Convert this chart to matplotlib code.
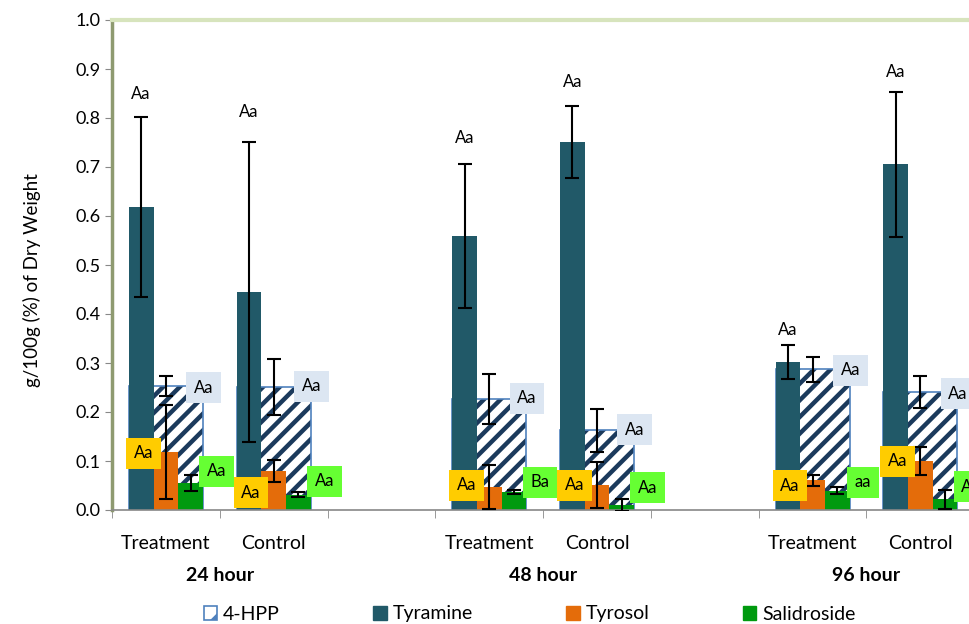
import matplotlib.pyplot as plt
import numpy as np
from matplotlib.patches import Patch
import matplotlib.transforms as mtransforms

plt.rcParams['font.family'] = ['Lato', 'DejaVu Sans']
plt.rcParams['hatch.linewidth'] = 3.2

# data, order: T24, C24, T48, C48, T96, C96
x_pos = [0, 1, 3, 4, 6, 7]
categories = ['Treatment', 'Control', 'Treatment', 'Control', 'Treatment', 'Control']
hours = ['24 hour', '48 hour', '96 hour']
series_names = ['4-HPP', 'Tyramine', 'Tyrosol', 'Salidroside']

hpp = [0.253, 0.251, 0.226, 0.163, 0.287, 0.241]
hpp_err = [0.021, 0.058, 0.051, 0.044, 0.025, 0.033]
tyramine = [0.618, 0.445, 0.559, 0.751, 0.302, 0.706]
tyramine_err = [0.184, 0.306, 0.147, 0.073, 0.035, 0.148]
tyrosol = [0.118, 0.080, 0.047, 0.051, 0.061, 0.100]
tyrosol_err = [0.096, 0.023, 0.045, 0.046, 0.011, 0.028]
salidroside = [0.055, 0.031, 0.037, 0.010, 0.039, 0.022]
salidroside_err = [0.017, 0.005, 0.004, 0.012, 0.007, 0.019]

# significance letters
tyramine_sig = ['Aa', 'Aa', 'Aa', 'Aa', 'Aa', 'Aa']
hpp_sig = ['Aa', 'Aa', 'Aa', 'Aa', 'Aa', 'Aa']
tyrosol_sig = ['Aa', 'Aa', 'Aa', 'Aa', 'Aa', 'Aa']
salidroside_sig = ['Aa', 'Aa', 'Ba', 'Aa', 'aa', 'Aa']

# where the letters sit (y in data units)
tyramine_lab_y = [0.849, 0.813, 0.759, 0.873, 0.367, 0.894]
hpp_lab_y = [0.249, 0.253, 0.228, 0.164, 0.285, 0.237]
tyrosol_lab_y = [0.116, 0.035, 0.050, 0.050, 0.049, 0.100]
salidroside_lab_y = [0.079, 0.059, 0.057, 0.045, 0.057, 0.047]

c_hpp_edge = '#4F81BD'
c_hatch = '#1B3A5C'
c_tyr = '#215968'
c_tyro = '#E46C0A'
c_sal = '#009A0F'

fig = plt.figure(figsize=(9.7, 6.24), dpi=100)
ax = fig.add_axes([112 / 970, 114 / 624, 1.0, 490 / 624])

x = np.array(x_pos, dtype=float)
w = 0.229

# 4-HPP wide hatched bar behind the others
ax.bar(x, hpp, 3 * w, color='white', edgecolor=c_hatch, hatch='//', linewidth=0, zorder=1)
ax.bar(x, hpp, 3 * w, fill=False, edgecolor=c_hpp_edge, linewidth=1.2, zorder=1.5)
ax.bar(x - w, tyramine, w, color=c_tyr, zorder=2)
ax.bar(x, tyrosol, w, color=c_tyro, zorder=2)
ax.bar(x + w, salidroside, w, color=c_sal, zorder=2)

eb = dict(fmt='none', ecolor='black', elinewidth=1.5, capsize=5, capthick=1.5, zorder=3)
ax.errorbar(x - w, tyramine, yerr=tyramine_err, **eb)
ax.errorbar(x, hpp, yerr=hpp_err, **eb)
ax.errorbar(x, tyrosol, yerr=tyrosol_err, **eb)
ax.errorbar(x + w, salidroside, yerr=salidroside_err, **eb)

# letters
for i in range(len(x_pos)):
    ax.text(x[i] - 0.23, tyramine_lab_y[i], tyramine_sig[i], ha='center', va='center',
            fontsize=12, zorder=4)
    ax.text(x[i] + 0.35, hpp_lab_y[i], hpp_sig[i], ha='center', va='center', fontsize=12,
            zorder=4, bbox=dict(boxstyle='square,pad=0.45', fc='#DCE6F2', ec='none'))
    ax.text(x[i] - 0.21, tyrosol_lab_y[i], tyrosol_sig[i], ha='center', va='center', fontsize=12,
            zorder=4, bbox=dict(boxstyle='square,pad=0.45', fc='#FFCC00', ec='none'))
    ax.text(x[i] + 0.47, salidroside_lab_y[i], salidroside_sig[i], ha='center', va='center',
            fontsize=12, zorder=4, bbox=dict(boxstyle='square,pad=0.45', fc='#66FF33', ec='none'))

ax.set_xlim(-0.5, 8.5)
ax.set_ylim(0, 1.0)
ax.set_yticks(np.arange(0, 1.01, 0.1))
ax.set_yticklabels(['{:.1f}'.format(v) for v in np.arange(0, 1.01, 0.1)], fontsize=13)
ax.tick_params(axis='y', direction='out', length=5, color='#888888', pad=3)

ax.set_xticks(x)
ax.set_xticklabels(categories, fontsize=14)
ax.set_xticks(np.arange(-0.5, 9, 1.0), minor=True)
ax.tick_params(axis='x', which='major', length=0, pad=18)
ax.tick_params(axis='x', which='minor', direction='out', length=6, color='#888888')

trans = mtransforms.blended_transform_factory(ax.transData, ax.transAxes)
for k, h in enumerate(hours):
    ax.text(x_pos[2 * k] + 0.5, -0.133, h, transform=trans, ha='center', va='center',
            fontsize=14, fontweight='bold')

ax.spines['top'].set_color('#D7E4BD')
ax.spines['top'].set_linewidth(3)
ax.spines['left'].set_color('#8E9A70')
ax.spines['left'].set_linewidth(2.5)
ax.spines['bottom'].set_color('#888888')
ax.spines['bottom'].set_linewidth(1.2)
ax.spines['right'].set_visible(False)

fig.text(32 / 970, 1 - 280 / 624, 'g/100g (%) of Dry Weight', rotation=90,
         ha='center', va='center', fontsize=13.5)

handles = [Patch(facecolor='white', edgecolor=c_hpp_edge, hatch='/', linewidth=1.2),
           Patch(color=c_tyr), Patch(color=c_tyro), Patch(color=c_sal)]
fig.legend(handles, series_names, loc='center', bbox_to_anchor=(0.546, 1 - 614 / 624),
           ncol=4, frameon=False, fontsize=14, handlelength=0.7, handleheight=0.7,
           handletextpad=0.3, columnspacing=4.8)

plt.savefig('out.png', dpi=100)
